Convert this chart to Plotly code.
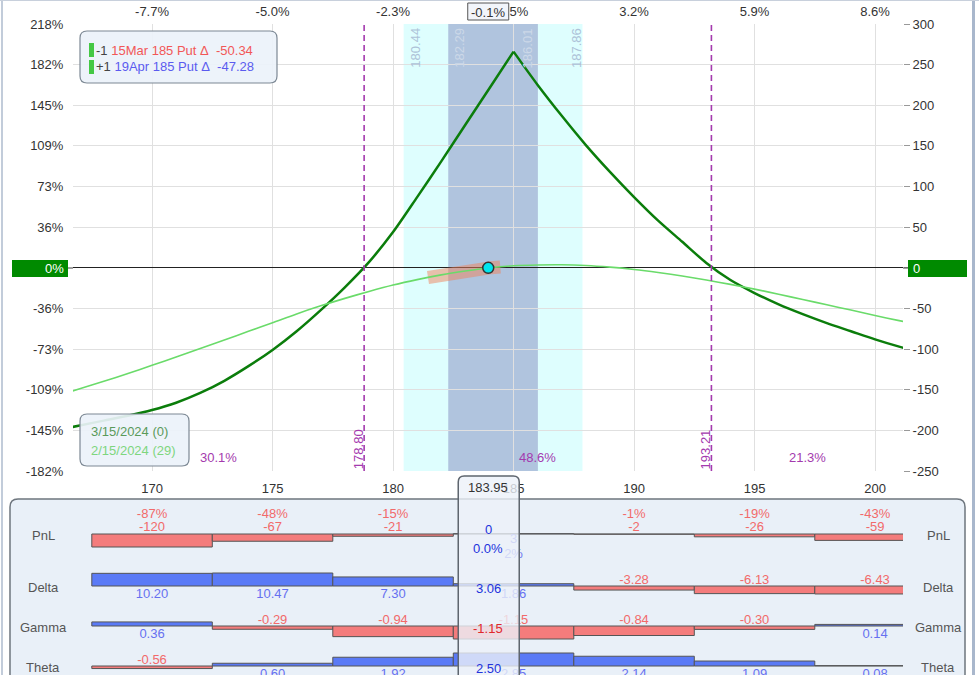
import numpy as np
import plotly.graph_objects as go

# ---------------- values ----------------
price_x = [166.5, 167, 168, 169, 170, 171, 172, 173, 174, 175, 176, 177, 178, 179,
           180, 181, 182, 183, 184, 185, 186, 187, 188, 189, 190, 191, 192, 193,
           194, 195, 196, 197, 198, 199, 200, 201, 201.5]
expiry_pnl = [-197, -194, -188, -182, -175, -166, -154, -139, -121, -101, -78, -52, -24, 7,
              44, 87, 131, 176, 221, 266, 225, 187, 151, 118, 87, 58, 32, 6,
              -15, -31, -45, -57, -68, -78, -88, -97, -101]
today_pnl = [-153.3, -148.8, -139.6, -130, -120, -109.7, -99.2, -88.7, -78.2, -67.5, -56.7, -46.8, -37.6, -29.1,
             -21.2, -14.5, -8.7, -4, 0, 2.5, 3.5, 3.7, 2.8, 0.8, -2, -5.7, -10, -15,
             -20.4, -26.2, -32.5, -39, -45.5, -52, -58.7, -65, -68]

strike_ticks = [170, 175, 180, 185, 190, 195, 200]
strike_labels = ["170", "175", "180", "185", "190", "195", "200"]
move_labels = ["-7.7%", "-5.0%", "-2.3%", "0.5%", "3.2%", "5.9%", "8.6%"]
pnl_ticks = [300, 250, 200, 150, 100, 50, 0, -50, -100, -150, -200, -250]
pct_labels = ["218%", "182%", "145%", "109%", "73%", "36%", "0%", "-36%", "-73%", "-109%", "-145%", "-182%"]
value_labels = ["300", "250", "200", "150", "100", "50", "0", "-50", "-100", "-150", "-200", "-250"]

current_price = 183.95
current_price_label = "183.95"
current_move_label = "-0.1%"
peak_strike = 185
breakevens = [178.80, 193.21]
outer_range = [180.44, 187.86]
inner_range = [182.29, 186.01]
prob_labels = ["30.1%", "48.6%", "21.3%"]

leg_qty = ["-1", "+1"]
leg_desc = ["15Mar 185 Put \u0394", "19Apr 185 Put \u0394"]
leg_delta = ["-50.34", "-47.28"]
curve_dates = ["3/15/2024 (0)", "2/15/2024 (29)"]

table_prices = [170, 175, 180, 185, 190, 195, 200]
pnl_values = [-120, -67, -21, 3, -2, -26, -59]
pnl_percent = [-87, -48, -15, 2, -1, -19, -43]
delta_values = [10.20, 10.47, 7.30, 1.86, -3.28, -6.13, -6.43]
gamma_values = [0.36, -0.29, -0.94, -1.15, -0.84, -0.30, 0.14]
theta_values = [-0.56, 0.60, 1.92, 2.85, 2.14, 1.09, 0.08]
row_names = ["PnL", "Delta", "Gamma", "Theta"]
current_values = ["0", "3.06", "-1.15", "2.50"]
current_pnl_percent = "0.0%"

# ---------------- layout constants ----------------
FONT = "Liberation Sans, Arial, sans-serif"
W, H = 979, 675
PL, PR, PT, PB = 73, 903, 24, 675
MAIN_BOTTOM = 471
PANEL_TOP = 474
X_RANGE = [166.72, 201.16]
Y_RANGE = [-250, 300]
UNIT_PX = (PR - PL) / (X_RANGE[1] - X_RANGE[0])
Y_PER_PX = (Y_RANGE[1] - Y_RANGE[0]) / (MAIN_BOTTOM - PT)
ROW_BASE = [534, 586, 626, 666]
BAR_PX = 13

DARK_GREEN = "#0B7D0B"
LIGHT_GREEN = "#6ADB6A"
RED_TXT = "#F26A6A"
BLUE_TXT = "#6670F0"
RED_BAR = "#F47C7C"
BLUE_BAR = "#5A7AF6"
PURPLE = "#A43AAE"
TICK = "#333333"


def fx(xp):
    return (xp - PL) / (PR - PL)


def fy(yp):
    return (PB - yp) / (PB - PT)


def ypix(yp):
    """main-axis value at a pixel row"""
    return Y_RANGE[1] - (yp - PT) * Y_PER_PX


def rpath(x0, x1, y0, y1, rx, ry, top_only=False):
    dy = ry if y0 > y1 else -ry
    if top_only:
        return (f"M {x0},{y1} L {x0},{y0 - dy} Q {x0},{y0} {x0 + rx},{y0} "
                f"L {x1 - rx},{y0} Q {x1},{y0} {x1},{y0 - dy} L {x1},{y1} Z")
    return (f"M {x0 + rx},{y0} L {x1 - rx},{y0} Q {x1},{y0} {x1},{y0 - dy} "
            f"L {x1},{y1 + dy} Q {x1},{y1} {x1 - rx},{y1} L {x0 + rx},{y1} "
            f"Q {x0},{y1} {x0},{y1 + dy} L {x0},{y0 - dy} Q {x0},{y0} {x0 + rx},{y0} Z")


def paper_box(x0, y0, x1, y1, r, fill, line, lw=1.2, layer="above"):
    return dict(type="path", xref="paper", yref="paper", layer=layer,
                path=rpath(fx(x0), fx(x1), fy(y0), fy(y1), r / (PR - PL), r / (PB - PT)),
                fillcolor=fill, line=dict(color=line, width=lw))


fig = go.Figure()

# ---------------- main chart traces ----------------
left = [i for i, p in enumerate(price_x) if p <= peak_strike]
right = [i for i, p in enumerate(price_x) if p >= peak_strike]
for idx in (left, right):
    fig.add_trace(go.Scatter(x=[price_x[i] for i in idx], y=[expiry_pnl[i] for i in idx],
                             mode="lines", line=dict(color=DARK_GREEN, width=2.5, shape="spline",
                                                     smoothing=0.8),
                             hoverinfo="skip"))
band_x = np.linspace(181.45, 184.45, 9)
band_y = np.interp(band_x, price_x, today_pnl)
fig.add_trace(go.Scatter(x=band_x, y=band_y, mode="lines",
                         line=dict(color="rgba(240,130,90,0.5)", width=13), hoverinfo="skip"))
fig.add_trace(go.Scatter(x=price_x, y=today_pnl, mode="lines",
                         line=dict(color=LIGHT_GREEN, width=1.6, shape="spline", smoothing=0.8),
                         hoverinfo="skip"))
fig.add_trace(go.Scatter(x=[current_price], y=[0], mode="markers",
                         marker=dict(size=11, color="#00E6EE", line=dict(color="#333", width=1.5)),
                         hoverinfo="skip"))
# anchor trace for top / right axes
fig.add_trace(go.Scatter(x=[current_price], y=[0], xaxis="x2", yaxis="y3", mode="markers",
                         marker=dict(size=1, opacity=0), hoverinfo="skip"))

# ---------------- bottom panel bars ----------------
rows = [pnl_values, delta_values, gamma_values, theta_values]
lx, ly, lt, lc = [], [], [], []
for name, vals, base in zip(row_names, rows, ROW_BASE):
    m = max(abs(v) for v in vals)
    heights = [-v / m * BAR_PX for v in vals]
    colors = [BLUE_BAR if v > 0 else RED_BAR for v in vals]
    fig.add_trace(go.Bar(x=table_prices, y=heights, base=[base] * len(vals), width=5,
                         marker=dict(color=colors, line=dict(color="#555", width=1)),
                         xaxis="x4", yaxis="y2", hoverinfo="skip"))
    for i, (p, v) in enumerate(zip(table_prices, vals)):
        col = RED_TXT if v < 0 else BLUE_TXT
        if name == "PnL":
            if v < 0:
                lx += [p, p]; ly += [base - 6, base - 19]
            else:
                lx += [p, p]; ly += [base + 6, base + 21]
            lt += [f"{v:d}", f"{pnl_percent[i]}%"]
            lc += [col, col]
        else:
            lx.append(p)
            ly.append(base - 5 if v < 0 else base + 9)
            lt.append(f"{v:.2f}")
            lc.append(col)
fig.add_trace(go.Scatter(x=lx, y=ly, text=lt, mode="text", xaxis="x4", yaxis="y2",
                         textfont=dict(family=FONT, size=13, color=lc), hoverinfo="skip"))

# ---------------- shapes ----------------
shapes = []
shapes.append(paper_box(10, 499, 965, 720, 8, "#E9F0F8", "#6E767E", 1.5, layer="below"))
shapes.append(dict(type="rect", xref="x", yref="y", x0=outer_range[0], x1=outer_range[1],
                   y0=Y_RANGE[0], y1=Y_RANGE[1], fillcolor="#DEFEFE", line=dict(width=0), layer="below"))
shapes.append(dict(type="rect", xref="x", yref="y", x0=inner_range[0], x1=inner_range[1],
                   y0=Y_RANGE[0], y1=Y_RANGE[1], fillcolor="#B0C4DE", line=dict(width=0), layer="below"))
for be in breakevens:
    shapes.append(dict(type="line", xref="x", yref="y", x0=be, x1=be, y0=Y_RANGE[0], y1=Y_RANGE[1],
                       line=dict(color=PURPLE, width=1.6, dash="6px,4px"), layer="above"))
# legends
shapes.append(paper_box(80, 31, 277, 83, 7, "rgba(236,242,250,0.92)", "#7C8894", 1.2))
shapes.append(dict(type="rect", xref="paper", yref="paper", x0=fx(89), x1=fx(94), y0=fy(57), y1=fy(43),
                   fillcolor="#44C844", line=dict(width=0)))
shapes.append(dict(type="rect", xref="paper", yref="paper", x0=fx(89), x1=fx(94), y0=fy(74), y1=fy(60),
                   fillcolor="#44C844", line=dict(width=0)))
shapes.append(paper_box(80, 414, 189, 466, 7, "rgba(236,242,250,0.92)", "#7C8894", 1.2))
# zero boxes
shapes.append(dict(type="rect", xref="paper", yref="paper", x0=fx(12), x1=fx(68), y0=fy(277), y1=fy(260),
                   fillcolor="#008A00", line=dict(width=0)))
shapes.append(dict(type="rect", xref="paper", yref="paper", x0=fx(908), x1=fx(967), y0=fy(277), y1=fy(260),
                   fillcolor="#008A00", line=dict(width=0)))
shapes.append(dict(type="line", xref="paper", yref="paper", x0=fx(68), x1=fx(73), y0=fy(268), y1=fy(268),
                   line=dict(color="#444", width=1)))
shapes.append(dict(type="line", xref="paper", yref="paper", x0=fx(903), x1=fx(908), y0=fy(268), y1=fy(268),
                   line=dict(color="#444", width=1)))
# current price move box (top)
hw = 20.5 / UNIT_PX
shapes.append(dict(type="rect", xref="x", yref="paper", x0=current_price - hw, x1=current_price + hw,
                   y0=fy(20), y1=fy(3), fillcolor="#F2F5FA", line=dict(color="#555", width=1), layer="above"))
# current price column in the panel
shapes.append(dict(type="path", xref="x4", yref="y2", layer="above",
                   path=rpath(current_price - 30 / UNIT_PX, current_price + 31 / UNIT_PX, 476, 700,
                              6 / UNIT_PX, 6, top_only=True),
                   fillcolor="rgba(236,241,249,0.80)", line=dict(color="#5E656E", width=1.5)))
# window frame
shapes.append(dict(type="line", xref="paper", yref="paper", x0=fx(2), x1=fx(2), y0=fy(0), y1=fy(675),
                   line=dict(color="#C2CCDA", width=2)))
shapes.append(dict(type="line", xref="paper", yref="paper", x0=fx(973.5), x1=fx(973.5), y0=fy(0), y1=fy(675),
                   line=dict(color="#A9B7CC", width=3)))
shapes.append(dict(type="line", xref="paper", yref="paper", x0=fx(0), x1=fx(979), y0=fy(0.5), y1=fy(0.5),
                   line=dict(color="#C8D0DC", width=1)))

# ---------------- annotations ----------------
ann = []


def text(t, x, y, color=TICK, size=13, xref="paper", yref="paper", xanchor="center",
         yanchor="middle", angle=0, xshift=0):
    ann.append(dict(text=t, x=x, y=y, xref=xref, yref=yref, xanchor=xanchor, yanchor=yanchor,
                    showarrow=False, textangle=angle, xshift=xshift,
                    font=dict(family=FONT, size=size, color=color)))


# legend texts
leg_cols = ["#F25757", "#5B5BEF"]
for i, yp in enumerate([50, 67]):
    t = (f"<span style='color:#444'>{leg_qty[i]}</span> "
         f"<span style='color:{leg_cols[i]}'>{leg_desc[i]}\u00a0\u00a0{leg_delta[i]}</span>")
    text(t, fx(94), fy(yp), xanchor="left")
text(curve_dates[0], fx(89), fy(432), color="#5A9A5A", xanchor="left")
text(curve_dates[1], fx(89), fy(450), color="#7ED67E", xanchor="left")

# zero labels
text("0%", fx(66), fy(268.5), color="white", xanchor="right")
text("0", fx(911), fy(268.5), color="white", xanchor="left")

# current price labels
text(current_move_label, current_price, fy(12), xref="x")
text(current_price_label, current_price, 487, xref="x4", yref="y2")

# range labels
for xv, sh, col in zip([outer_range[0], inner_range[0], inner_range[1], outer_range[1]],
                       [11, 10.5, -10.5, -6.5],
                       ["#ADC2D8", "#CCD8E8", "#CCD8E8", "#ADC2D8"]):
    text(f"{xv:.2f}", xv, ypix(48), xref="x", yref="y", angle=-90, xshift=sh, color=col)

# breakeven labels
for be in breakevens:
    text(f"{be:.2f}", be, ypix(449), xref="x", yref="y", angle=-90, xshift=-6, color=PURPLE)

# probability labels
mids = [(X_RANGE[0] + breakevens[0]) / 2, (breakevens[0] + breakevens[1]) / 2,
        (breakevens[1] + X_RANGE[1]) / 2]
for t, xm in zip(prob_labels, mids):
    text(t, xm, ypix(457), xref="x", yref="y", color=PURPLE)

# row names
for name, base in zip(row_names, ROW_BASE):
    text(name, fx(43), fy(base + 1), color="#555")
    text(name, fx(938), fy(base + 1), color="#555")

# current column values
cur_y = [ROW_BASE[0] - 5, ROW_BASE[1] + 2, ROW_BASE[2] + 2, ROW_BASE[3] + 2]
cur_c = ["#2233DD", "#2233DD", "#E0282C", "#2233DD"]
for t, yv, c in zip(current_values, cur_y, cur_c):
    text(t, current_price, yv, xref="x4", yref="y2", color=c)
text(current_pnl_percent, current_price, ROW_BASE[0] + 14, xref="x4", yref="y2", color="#2233DD")

# ---------------- layout ----------------
main_dom = [fy(MAIN_BOTTOM), 1]
fig.update_layout(
    width=W, height=H, template="none",
    margin=dict(l=PL, r=W - PR, t=PT, b=0, pad=0),
    paper_bgcolor="white", plot_bgcolor="rgba(0,0,0,0)",
    showlegend=False, barmode="overlay",
    font=dict(family=FONT, size=13, color=TICK),
    shapes=shapes, annotations=ann,
    xaxis=dict(domain=[0, 1], range=X_RANGE, anchor="y", tickmode="array", tickvals=strike_ticks,
               ticktext=strike_labels, showgrid=True, gridcolor="#E0E0E0", gridwidth=1,
               zeroline=False, showline=False, ticks="outside", ticklen=5,
               tickcolor="rgba(0,0,0,0)", tickfont=dict(size=13, color=TICK), automargin=False,
               fixedrange=True),
    xaxis2=dict(overlaying="x", side="top", anchor="y", range=X_RANGE, tickmode="array",
                tickvals=strike_ticks, ticktext=move_labels, showgrid=False, zeroline=False,
                showline=False, ticks="outside", ticklen=2, tickcolor="rgba(0,0,0,0)",
                tickfont=dict(size=13, color=TICK), automargin=False, fixedrange=True),
    xaxis4=dict(domain=[0, 1], range=X_RANGE, anchor="y2", visible=False, fixedrange=True),
    yaxis=dict(domain=main_dom, range=Y_RANGE, anchor="x", tickmode="array", tickvals=pnl_ticks,
               ticktext=[("" if v == 0 else t) for v, t in zip(pnl_ticks, pct_labels)],
               showgrid=True, gridcolor="#E0E0E0", gridwidth=1, zeroline=True,
               zerolinecolor="#222", zerolinewidth=1, showline=False, ticks="outside", ticklen=6,
               tickcolor="rgba(0,0,0,0)", tickfont=dict(size=13, color=TICK), automargin=False,
               fixedrange=True),
    yaxis3=dict(overlaying="y", side="right", anchor="x", range=Y_RANGE, tickmode="array",
                tickvals=pnl_ticks,
                ticktext=[("" if v == 0 else t) for v, t in zip(pnl_ticks, value_labels)],
                showgrid=False, zeroline=False, showline=False, ticks="outside", ticklen=6,
                tickcolor="#999", tickfont=dict(size=13, color=TICK), automargin=False,
                fixedrange=True),
    yaxis2=dict(domain=[0, fy(PANEL_TOP)], range=[PB, PANEL_TOP], anchor="x4", visible=False,
                fixedrange=True),
)

fig.write_html("out.html", config={"displayModeBar": False},
               post_script="document.body.style.margin='0px';document.body.style.padding='0px';"
                           "document.body.style.overflow='hidden';")
